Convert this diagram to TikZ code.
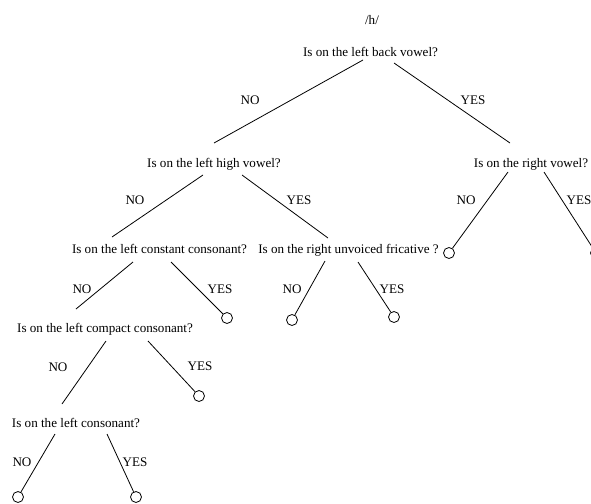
\documentclass[tikz,border=0pt]{standalone}
\usepackage{fontspec}
\setmainfont{Liberation Serif}
\usetikzlibrary{calc}
\begin{document}
\begin{tikzpicture}[x=1pt,y=-1pt,
  q/.style={inner sep=0pt,anchor=base,font=\fontsize{13.1}{15}\selectfont},
  lab/.style={inner sep=0pt,font=\fontsize{13.1}{15}\selectfont},
  leaf/.style={circle,draw,line width=0.8pt,minimum size=11pt,inner sep=0pt},
  edge/.style={line width=0.8pt}]
\fill[white] (0,0) rectangle (591,503);
\useasboundingbox (0,0) rectangle (591,503);
% questions
\node[q] (h)  at (372,25)    {/h/};
\node[q] (q0) at (370.5,56.5) {Is on the left back vowel?};
\node[q] (q1) at (214,167.5)  {Is on the left high vowel?};
\node[q] (q2) at (531,167.5)  {Is on the right vowel?};
\node[q] (q3) at (159.5,253.5) {Is on the left constant consonant?};
\node[q] (q4) at (348.5,253.5) {Is on the right unvoiced fricative ?};
\node[q] (q5) at (105,332.5)  {Is on the left compact consonant?};
\node[q] (q6) at (76,427.5)   {Is on the left consonant?};
% leaves
\node[leaf] (la) at (449,253) {};
\node[leaf] (lb) at (596,253) {};
\node[leaf] (lc) at (227,318) {};
\node[leaf] (ld) at (292,320) {};
\node[leaf] (le) at (394,317) {};
\node[leaf] (lf) at (199,396) {};
\node[leaf] (lg) at (18,497) {};
\node[leaf] (lh) at (136,497) {};
% labels
\node[lab] (n0) at (250,100) {NO};
\node[lab] (y0) at (473,100) {YES};
\node[lab] (n1) at (135,200) {NO};
\node[lab] (y1) at (299,200) {YES};
\node[lab] (n2) at (466,200) {NO};
\node[lab] (y2) at (579,200) {YES};
\node[lab] (n3) at (82,289) {NO};
\node[lab] (y3) at (220,289) {YES};
\node[lab] (n4) at (292,289) {NO};
\node[lab] (y4) at (392,289) {YES};
\node[lab] (n5) at (58,367) {NO};
\node[lab] (y5) at (200,366) {YES};
\node[lab] (n6) at (22,462) {NO};
\node[lab] (y6) at (135,462) {YES};
% connectors
\draw[edge] ($(q0.base)+(-7.5,3.5)$) -- ($(q1.base)+(0,-24.5)$);
\draw[edge] ($(q0.base)+(23.5,6.5)$) -- ($(q2.base)+(-21,-24.5)$);
\draw[edge] ($(q1.base)+(-11,7.5)$) -- ($(q3.base)+(-47.5,-16.5)$);
\draw[edge] ($(q1.base)+(28,7.5)$) -- ($(q4.base)+(-20.5,-15.5)$);
\draw[edge] ($(q2.base)+(-23,4.5)$) -- (la);
\draw[edge] ($(q2.base)+(13,4.5)$) -- (lb);
\draw[edge] ($(q3.base)+(-26.5,8.5)$) -- ($(q5.base)+(-29,-23.5)$);
\draw[edge] ($(q3.base)+(11.5,8.5)$) -- (lc);
\draw[edge] ($(q4.base)+(-23.5,7.5)$) -- (ld);
\draw[edge] ($(q4.base)+(9.5,8.5)$) -- (le);
\draw[edge] ($(q5.base)+(1,8.5)$) -- ($(q6.base)+(-14,-23.5)$);
\draw[edge] ($(q5.base)+(43,8.5)$) -- (lf);
\draw[edge] ($(q6.base)+(-21,6.5)$) -- (lg);
\draw[edge] ($(q6.base)+(31,6.5)$) -- (lh);
\end{tikzpicture}
\end{document}
